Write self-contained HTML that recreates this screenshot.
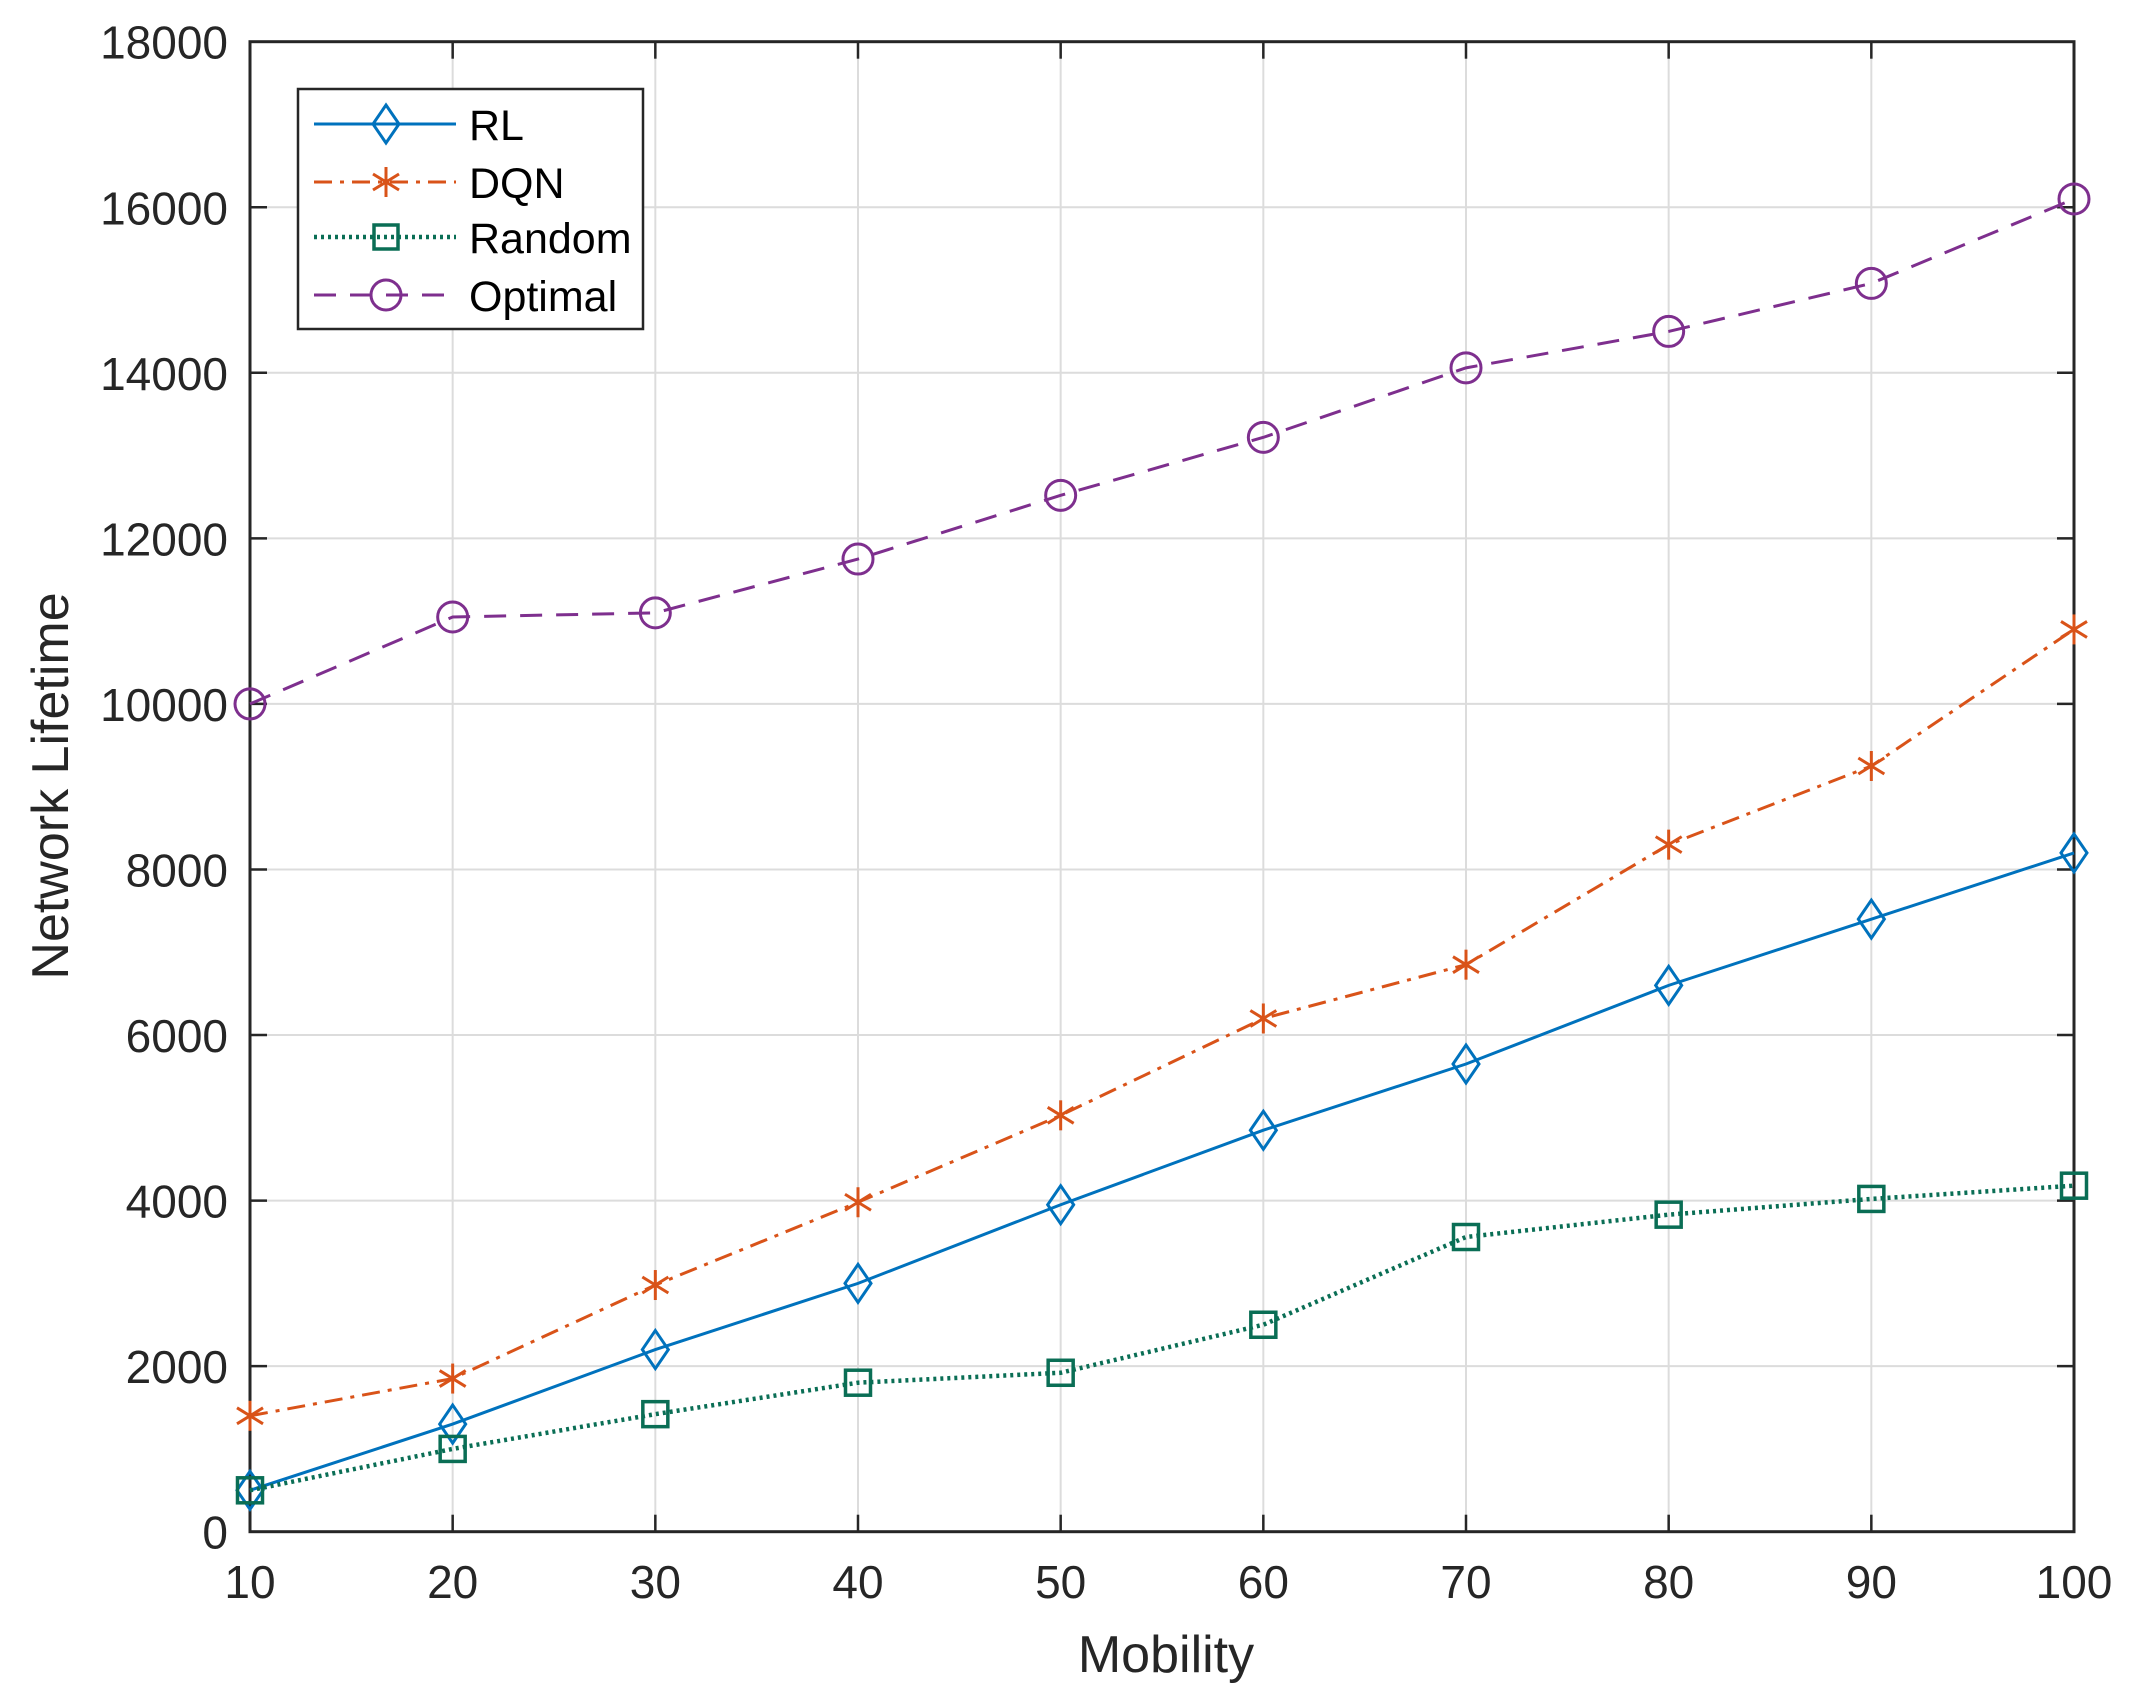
<!DOCTYPE html>
<html><head><meta charset="utf-8"><style>html,body{margin:0;padding:0;background:#fff}svg{display:block}</style></head>
<body>
<svg width="2139" height="1697" viewBox="0 0 2139 1697" xmlns="http://www.w3.org/2000/svg" font-family="Liberation Sans, Arial, sans-serif">
<rect width="2139" height="1697" fill="#fff"/>
<g id="grid" stroke="#dcdcdc" stroke-width="2"></g>
<g id="ticks" stroke="#262626" stroke-width="2.5"></g>
<rect x="250" y="41.7" width="1824" height="1490" fill="none" stroke="#262626" stroke-width="3"/>
<g id="labels" font-size="46" fill="#262626"></g>
<g id="series"></g>
<text x="1166" y="1672" font-size="52" fill="#262626" text-anchor="middle">Mobility</text>
<text transform="translate(68,786) rotate(-90)" font-size="52" fill="#262626" text-anchor="middle">Network Lifetime</text>
<g id="legend">
<rect x="298" y="89" width="345" height="240" fill="#fff" stroke="#262626" stroke-width="2.5"/>
<line x1="314" y1="124" x2="456" y2="124" stroke="#0072BD" stroke-width="3"/>
<path d="M386 105 L399 124 L386 143 L373 124 Z" fill="none" stroke="#0072BD" stroke-width="3"/>
<line x1="314" y1="182" x2="456" y2="182" stroke="#D95319" stroke-width="3" stroke-dasharray="18,8,4,8"/>
<g stroke="#D95319" stroke-width="3"><line x1="386" y1="167" x2="386" y2="197"/><line x1="373" y1="174" x2="399" y2="190"/><line x1="373" y1="190" x2="399" y2="174"/></g>
<line x1="314" y1="237" x2="456" y2="237" stroke="#0a6e55" stroke-width="4.5" stroke-dasharray="3,4"/>
<rect x="374" y="225" width="24" height="24" fill="none" stroke="#0a6e55" stroke-width="3.5"/>
<line x1="314" y1="295" x2="456" y2="295" stroke="#7E2F8E" stroke-width="3" stroke-dasharray="22,14"/>
<circle cx="386" cy="295" r="15" fill="none" stroke="#7E2F8E" stroke-width="3"/>
<text x="469" y="140" font-size="43" fill="#000">RL</text>
<text x="469" y="198" font-size="43" fill="#000">DQN</text>
<text x="469" y="253" font-size="43" fill="#000">Random</text>
<text x="469" y="311" font-size="43" fill="#000">Optimal</text>
</g>
</svg>
<script>
(function(){
var ns="http://www.w3.org/2000/svg";
var L=250,R=2074,T=41.7,B=1531.7;
function X(m){return L+(m-10)/90*(R-L);}
function Y(v){return B-v/18000*(B-T);}
function el(p,n,a){var e=document.createElementNS(ns,n);for(var k in a)e.setAttribute(k,a[k]);p.appendChild(e);return e;}
var g=document.getElementById('grid'),t=document.getElementById('ticks'),lb=document.getElementById('labels');
for(var m=10;m<=100;m+=10){var x=X(m);
 if(m>10&&m<100)el(g,'line',{x1:x,y1:T,x2:x,y2:B});
 el(t,'line',{x1:x,y1:B,x2:x,y2:B-17});el(t,'line',{x1:x,y1:T,x2:x,y2:T+17});
 var tx=el(lb,'text',{x:x,y:1598,'text-anchor':'middle'});tx.textContent=m;}
for(var v=0;v<=18000;v+=2000){var y=Y(v);
 if(v>0&&v<18000)el(g,'line',{x1:L,y1:y,x2:R,y2:y});
 el(t,'line',{x1:L,y1:y,x2:L+17,y2:y});el(t,'line',{x1:R,y1:y,x2:R-17,y2:y});
 var ty=el(lb,'text',{x:228,y:y+17,'text-anchor':'end'});ty.textContent=v;}
var s=document.getElementById('series');
var D={
RL:[500,1300,2200,3000,3950,4850,5650,6600,7400,8200],
DQN:[1400,1850,2980,3980,5030,6200,6850,8300,9250,10900],
Rand:[500,1000,1420,1800,1920,2500,3560,3830,4020,4180],
Opt:[10000,11050,11100,11750,12520,13220,14060,14500,15080,16100]};
function pts(a){return a.map(function(v,i){return X(10+10*i)+','+Y(v);}).join(' ');}
el(s,'polyline',{points:pts(D.Opt),fill:'none',stroke:'#7E2F8E','stroke-width':3,'stroke-dasharray':'22,14'});
el(s,'polyline',{points:pts(D.DQN),fill:'none',stroke:'#D95319','stroke-width':3,'stroke-dasharray':'18,8,4,8'});
el(s,'polyline',{points:pts(D.RL),fill:'none',stroke:'#0072BD','stroke-width':3});
el(s,'polyline',{points:pts(D.Rand),fill:'none',stroke:'#0a6e55','stroke-width':4.5,'stroke-dasharray':'3,4'});
for(var i=0;i<10;i++){var x=X(10+10*i),y;
 y=Y(D.Opt[i]);el(s,'circle',{cx:x,cy:y,r:15,fill:'none',stroke:'#7E2F8E','stroke-width':3});
 y=Y(D.DQN[i]);var gg=el(s,'g',{stroke:'#D95319','stroke-width':3});
 el(gg,'line',{x1:x,y1:y-15,x2:x,y2:y+15});el(gg,'line',{x1:x-13,y1:y-8,x2:x+13,y2:y+8});el(gg,'line',{x1:x-13,y1:y+8,x2:x+13,y2:y-8});
 y=Y(D.RL[i]);el(s,'path',{d:'M'+x+' '+(y-19)+' L'+(x+13)+' '+y+' L'+x+' '+(y+19)+' L'+(x-13)+' '+y+' Z',fill:'none',stroke:'#0072BD','stroke-width':3});
 y=Y(D.Rand[i]);el(s,'rect',{x:x-12.5,y:y-12.5,width:25,height:25,fill:'none',stroke:'#0a6e55','stroke-width':3.5});
}
})();
</script>
</body></html>
